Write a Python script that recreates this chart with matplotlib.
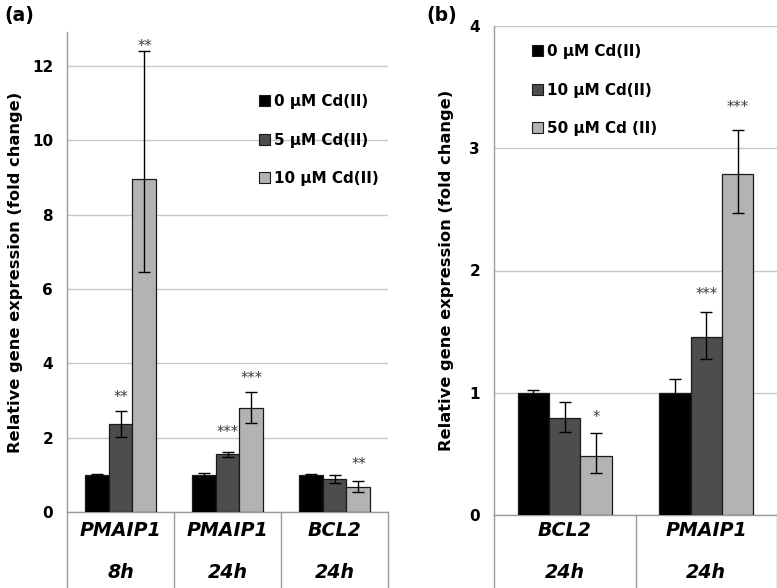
import matplotlib
matplotlib.use("Agg")
import matplotlib.pyplot as plt
import matplotlib.transforms as mtransforms
from matplotlib.patches import Patch
import numpy as np

plt.rcParams['font.family'] = ['DejaVu Sans']

# ---------------- data ----------------
a_genes = ["PMAIP1", "PMAIP1", "BCL2"]
a_times = ["8h", "24h", "24h"]
a_series = ["0 µM Cd(II)", "5 µM Cd(II)", "10 µM Cd(II)"]
a_vals = [[1.00, 1.00, 1.00],
          [2.36, 1.55, 0.89],
          [8.95, 2.80, 0.66]]
a_err_lo = [[0.02, 0.05, 0.02],
            [0.33, 0.07, 0.11],
            [2.50, 0.40, 0.13]]
a_err_hi = [[0.02, 0.06, 0.02],
            [0.35, 0.07, 0.10],
            [3.45, 0.43, 0.18]]
a_stars = [["", "", ""],
           ["**", "***", ""],
           ["**", "***", "**"]]
a_star_y = [[0, 0, 0],
            [3.07, 2.13, 0],
            [12.52, 3.58, 1.27]]
a_yticks = [0, 2, 4, 6, 8, 10, 12]

b_genes = ["BCL2", "PMAIP1"]
b_times = ["24h", "24h"]
b_series = ["0 µM Cd(II)", "10 µM Cd(II)", "50 µM Cd (II)"]
b_vals = [[1.00, 1.00],
          [0.795, 1.46],
          [0.48, 2.79]]
b_err_lo = [[0.02, 0.11],
            [0.12, 0.18],
            [0.14, 0.32]]
b_err_hi = [[0.02, 0.11],
            [0.13, 0.20],
            [0.19, 0.36]]
b_stars = [["", ""],
           ["", "***"],
           ["*", "***"]]
b_star_y = [[0, 0],
            [0, 1.80],
            [0.80, 3.33]]
b_yticks = [0, 1, 2, 3, 4]

colors = ["#000000", "#4d4d4d", "#b3b3b3"]
edge = "#1a1a1a"
grid_c = "#c8c8c8"
axis_c = "#9a9a9a"

W, H = 777, 588
fig = plt.figure(figsize=(W / 100, H / 100), dpi=100)


def panel(rect, genes, times, series, vals, elo, ehi, stars, stary, yticks,
          ylim, bw, leg_xy, label_x, panel_lbl, panel_xy):
    ax = fig.add_axes(rect)
    n = len(genes)
    x = np.arange(n)
    for i in range(len(series)):
        ax.bar(x + (i - 1) * bw, vals[i], width=bw, color=colors[i],
               edgecolor=edge, linewidth=0.9, zorder=3, label=series[i])
        ax.errorbar(x + (i - 1) * bw, vals[i], yerr=[elo[i], ehi[i]],
                    fmt='none', ecolor='black', elinewidth=1.0, capsize=4.5,
                    capthick=1.0, zorder=4)
        for j in range(n):
            if stars[i][j]:
                ax.text(x[j] + (i - 1) * bw, stary[i][j], stars[i][j],
                        ha='center', va='center', fontsize=10.5,
                        color='#3a3a3a', zorder=5)
    ax.set_xlim(-0.5, n - 0.5)
    ax.set_ylim(*ylim)
    ax.set_yticks(yticks)
    ax.set_yticklabels([str(t) for t in yticks], fontsize=11,
                       fontweight='bold')
    ax.tick_params(axis='y', length=0, pad=10)
    ax.set_xticks([])
    ax.yaxis.grid(True, color=grid_c, linewidth=1.0, zorder=0)
    ax.set_axisbelow(True)
    for s in ['top', 'right']:
        ax.spines[s].set_visible(False)
    ax.spines['left'].set_color(axis_c)
    ax.spines['bottom'].set_color(axis_c)
    ax.spines['left'].set_linewidth(1.0)
    ax.spines['bottom'].set_linewidth(1.0)
    ax.set_ylabel("Relative gene expression (fold change)", fontsize=11.7,
                  fontweight='bold')
    ax.yaxis.set_label_coords(label_x, 0.5)

    tr = mtransforms.blended_transform_factory(ax.transData, fig.transFigure)
    bottom_frac = rect[1]
    for k in range(n + 1):
        ax.plot([k - 0.5, k - 0.5], [0, bottom_frac], transform=tr,
                color=axis_c, linewidth=1.0, clip_on=False)
    for j in range(n):
        ax.text(x[j], 1 - 530 / H, genes[j], transform=tr, ha='center',
                va='center', fontsize=13.7, fontweight='bold', style='italic')
        ax.text(x[j], 1 - 572 / H, times[j], transform=tr, ha='center',
                va='center', fontsize=13.7, fontweight='bold', style='italic')

    handles = [Patch(facecolor=colors[i], edgecolor=edge, linewidth=0.8)
               for i in range(len(series))]
    fig.legend(handles, series, loc='center left', bbox_to_anchor=leg_xy,
               bbox_transform=fig.transFigure, frameon=False,
               prop={'size': 11, 'weight': 'bold'}, handlelength=0.7,
               handleheight=0.7, handletextpad=0.3, labelspacing=1.55,
               borderpad=0, borderaxespad=0)
    fig.text(panel_xy[0], panel_xy[1], panel_lbl, fontsize=13.5,
             fontweight='bold', ha='left', va='center')
    return ax


panel([67 / W, (H - 512) / H, 321 / W, 480 / H], a_genes, a_times, a_series,
      a_vals, a_err_lo, a_err_hi, a_stars, a_star_y, a_yticks, (0, 12.92),
      0.224, (259 / W, 1 - 140 / H), -0.137, "(a)", (4 / W, 1 - 16 / H))

panel([494 / W, (H - 515) / H, 283 / W, 489 / H], b_genes, b_times, b_series,
      b_vals, b_err_lo, b_err_hi, b_stars, b_star_y, b_yticks, (0, 4),
      0.222, (532 / W, 1 - 90 / H), -0.141, "(b)", (426 / W, 1 - 16 / H))

fig.savefig("out.png", dpi=100)
